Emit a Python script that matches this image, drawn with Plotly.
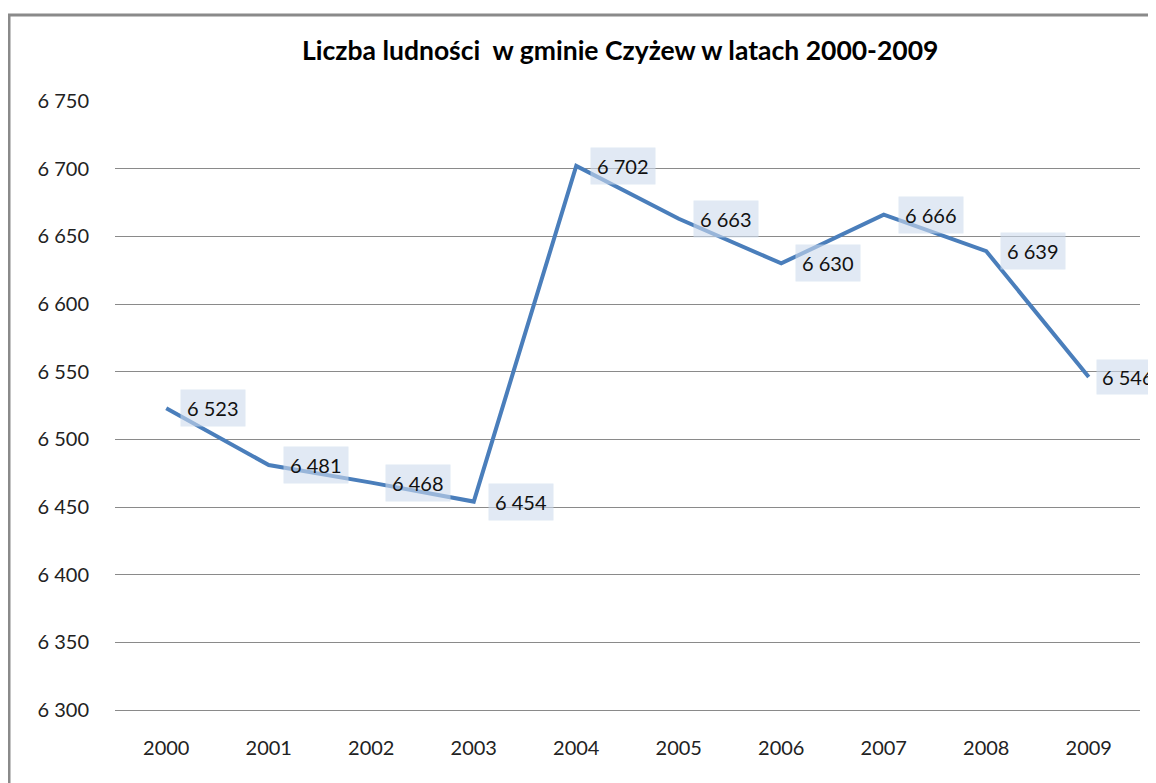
import plotly.graph_objects as go

years = ["2000", "2001", "2002", "2003", "2004", "2005", "2006", "2007", "2008", "2009"]
population = [6523, 6481, 6468, 6454, 6702, 6663, 6630, 6666, 6639, 6546]
y_tick_vals = [6300, 6350, 6400, 6450, 6500, 6550, 6600, 6650, 6700, 6750]
y_tick_text = ["6 300", "6 350", "6 400", "6 450", "6 500", "6 550", "6 600", "6 650", "6 700", "6 750"]
title_text = "Liczba ludności  w gminie Czyżew w latach 2000-2009"

FONT = "Lato"
OFF = 8  # page body margin offset
W, H = 1156 - OFF, 783 - OFF
L, T = 115 - OFF, 101 - OFF
R, B = W - (1140 - OFF), H - (710 - OFF)
pw, ph = W - L - R, H - T - B


def fmt(v):
    return f"{v:,}".replace(",", " ")


fig = go.Figure()
fig.add_trace(go.Scatter(
    x=list(range(len(years))), y=population, mode="lines",
    line=dict(color="#4a7ebb", width=4),
    hoverinfo="skip", showlegend=False, cliponaxis=False,
))

annotations = []
n = len(population)
for i, v in enumerate(population):
    annotations.append(dict(
        x=i, y=v, xref="x", yref="y", text=fmt(v), showarrow=False,
        xanchor="left", yanchor="middle", xshift=14 if i < n - 1 else 7,
        bgcolor="rgba(205,219,236,0.6)", borderpad=6 if i < n - 1 else 5,
        font=dict(family=FONT, size=20, color="#111111"),
    ))

# title
annotations.append(dict(
    x=(620 - OFF - L) / pw, y=(710 - 50) / ph, xref="paper", yref="paper",
    text=f"<b>{title_text}</b>", showarrow=False, xanchor="center", yanchor="middle",
    font=dict(family=FONT, size=26.5, color="#000000"),
))

fig.update_layout(
    width=W, height=H,
    margin=dict(l=L, r=R, t=T, b=B, pad=0),
    paper_bgcolor="white", plot_bgcolor="white",
    annotations=annotations,
    shapes=[dict(
        type="rect", xref="paper", yref="paper",
        x0=(9 - 115) / pw, x1=(1300 - 115) / pw,
        y0=(710 - 900) / ph, y1=(710 - 15) / ph,
        line=dict(color="#8a8a8a", width=3), fillcolor="rgba(0,0,0,0)", layer="below",
    )],
    xaxis=dict(
        range=[-0.5, 9.5], tickvals=list(range(len(years))), ticktext=years,
        showgrid=False, zeroline=False,
        showline=True, linecolor="#8a8a8a", linewidth=1,
        ticks="", ticklabelstandoff=20,
        tickfont=dict(family=FONT, size=20, color="#222222"),
    ),
    yaxis=dict(
        range=[6300, 6750], tickvals=y_tick_vals, ticktext=y_tick_text,
        showgrid=True, gridcolor="#8a8a8a", gridwidth=1, zeroline=False,
        showline=False, ticks="", ticklabelstandoff=25,
        tickfont=dict(family=FONT, size=20, color="#222222"),
    ),
)

fig.write_html("out.html")
